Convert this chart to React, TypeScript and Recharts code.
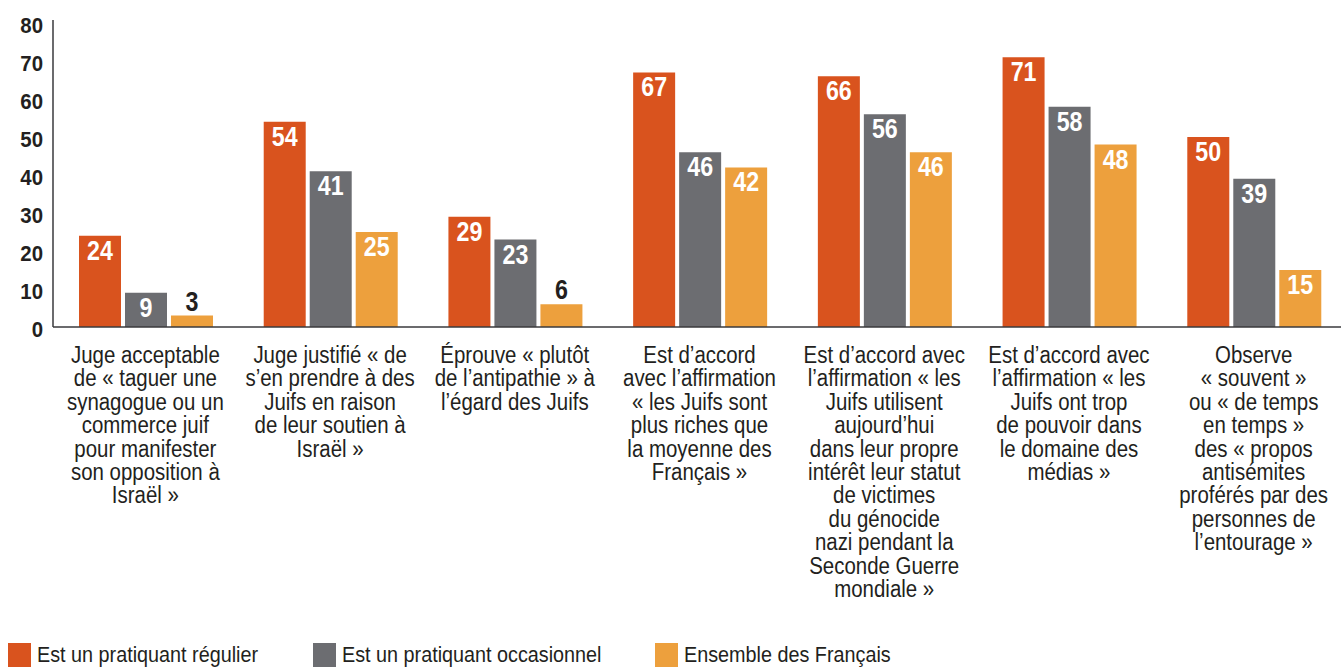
import { BarChart, Bar, XAxis, YAxis, LabelList } from 'recharts';

const FONT = '"Liberation Sans", Arial, sans-serif';

const COLORS = {
  regulier: '#D9531E',
  occasionnel: '#6C6D71',
  ensemble: '#EDA03D',
};

const categoryLabels: string[][] = [
  ['Juge acceptable', 'de « taguer une', 'synagogue ou un', 'commerce juif', 'pour manifester', 'son opposition à', 'Israël »'],
  ['Juge justifié « de', 's’en prendre à des', 'Juifs en raison', 'de leur soutien à', 'Israël »'],
  ['Éprouve « plutôt', 'de l’antipathie » à', 'l’égard des Juifs'],
  ['Est d’accord', 'avec l’affirmation', '« les Juifs sont', 'plus riches que', 'la moyenne des', 'Français »'],
  ['Est d’accord avec', 'l’affirmation « les', 'Juifs utilisent', 'aujourd’hui', 'dans leur propre', 'intérêt leur statut', 'de victimes', 'du génocide', 'nazi pendant la', 'Seconde Guerre', 'mondiale »'],
  ['Est d’accord avec', 'l’affirmation « les', 'Juifs ont trop', 'de pouvoir dans', 'le domaine des', 'médias »'],
  ['Observe', '« souvent »', 'ou « de temps', 'en temps »', 'des « propos', 'antisémites', 'proférés par des', 'personnes de', 'l’entourage »'],
];

const regulier = [24, 54, 29, 67, 66, 71, 50];
const occasionnel = [9, 41, 23, 46, 56, 58, 39];
const ensemble = [3, 25, 6, 42, 46, 48, 15];

const yTicks = [0, 10, 20, 30, 40, 50, 60, 70, 80];

const legendItems = [
  { label: 'Est un pratiquant régulier', color: COLORS.regulier },
  { label: 'Est un pratiquant occasionnel', color: COLORS.occasionnel },
  { label: 'Ensemble des Français', color: COLORS.ensemble },
];
const legendX = [8, 313, 655];

const data = categoryLabels.map((_, i) => ({
  idx: i,
  regulier: regulier[i],
  occasionnel: occasionnel[i],
  ensemble: ensemble[i],
}));

const CategoryTick = (props: any) => {
  const { x, payload } = props;
  const lines = categoryLabels[payload.value] || [];
  return (
    <text
      transform={`translate(${x} 363) scale(0.87 1)`}
      x={0}
      y={0}
      textAnchor="middle"
      fontFamily={FONT}
      fontSize={23.5}
      fill="#231F20"
    >
      {lines.map((line, i) => (
        <tspan key={i} x={0} dy={i === 0 ? 0 : 23.4}>
          {line}
        </tspan>
      ))}
    </text>
  );
};

const ValueTick = (props: any) => {
  const { x, y, payload } = props;
  return (
    <text
      transform={`translate(${x} ${y + 9.5}) scale(0.95 1)`}
      textAnchor="end"
      fontFamily={FONT}
      fontWeight="bold"
      fontSize={21.5}
      fill="#231F20"
    >
      {payload.value}
    </text>
  );
};

const ValueLabel = (props: any) => {
  const { x, y, width, value } = props;
  const inside = value >= 8;
  const cy = inside ? y + 24 : y - 5;
  return (
    <text
      transform={`translate(${x + width / 2} ${cy}) scale(0.83 1)`}
      textAnchor="middle"
      fontFamily={FONT}
      fontWeight="bold"
      fontSize={28}
      fill={inside ? '#FFFFFF' : '#231F20'}
    >
      {value}
    </text>
  );
};

export default function App() {
  return (
    <div style={{ position: 'absolute', left: 0, top: 0, width: 1341, height: 667, overflow: 'hidden', background: '#fff' }}>
      <BarChart
        width={1346}
        height={667}
        data={data}
        margin={{ top: 20, right: 0, left: 0, bottom: 0 }}
        barCategoryGap={26}
        barGap={4}
      >
        <XAxis
          dataKey="idx"
          height={340}
          tickLine={false}
          axisLine={{ stroke: '#3A3A3C', strokeWidth: 1.5 }}
          tick={<CategoryTick />}
          interval={0}
        />
        <YAxis
          width={53}
          domain={[0, 80.8]}
          ticks={yTicks}
          tickLine={false}
          tickSize={0}
          tickMargin={10}
          axisLine={{ stroke: '#3A3A3C', strokeWidth: 1.5 }}
          tick={<ValueTick />}
          allowDataOverflow
        />
        <Bar dataKey="regulier" fill={COLORS.regulier} isAnimationActive={false}>
          <LabelList dataKey="regulier" content={<ValueLabel />} />
        </Bar>
        <Bar dataKey="occasionnel" fill={COLORS.occasionnel} isAnimationActive={false}>
          <LabelList dataKey="occasionnel" content={<ValueLabel />} />
        </Bar>
        <Bar dataKey="ensemble" fill={COLORS.ensemble} isAnimationActive={false}>
          <LabelList dataKey="ensemble" content={<ValueLabel />} />
        </Bar>
      </BarChart>
      {legendItems.map((item, i) => (
        <div key={i} style={{ position: 'absolute', left: legendX[i], top: 643, height: 24, display: 'flex', alignItems: 'center', fontFamily: FONT, fontSize: 21.5, color: '#231F20' }}>
          <span style={{ display: 'inline-block', width: 23, height: 24, background: item.color, marginRight: 6 }} />
          <span style={{ display: 'inline-block', whiteSpace: 'nowrap', transform: 'scaleX(0.92)', transformOrigin: 'left center', lineHeight: '24px' }}>
            {item.label}
          </span>
        </div>
      ))}
    </div>
  );
}
